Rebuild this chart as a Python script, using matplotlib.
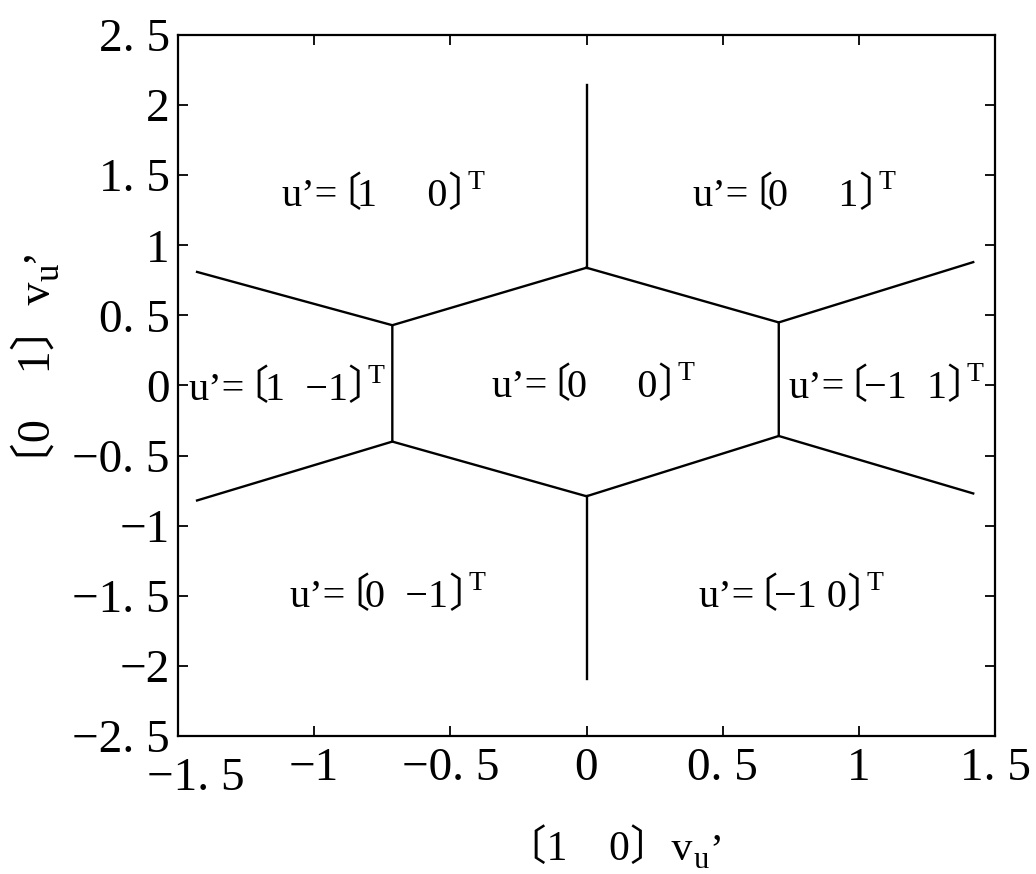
import matplotlib
matplotlib.use("Agg")
import matplotlib.pyplot as plt
from matplotlib.transforms import ScaledTranslation

plt.rcParams['font.family'] = ['Liberation Serif', 'Noto Sans CJK JP', 'DejaVu Sans']

# ---- data -------------------------------------------------------------
# hexagon vertices: top, upper-right, lower-right, bottom, lower-left, upper-left
vertex_x = [0.0, 0.706, 0.706, 0.0, -0.713, -0.713]
vertex_y = [0.84, 0.45, -0.36, -0.79, -0.40, 0.43]
# outer end of the boundary line leaving each vertex
spoke_end_x = [0.0, 1.42, 1.42, 0.0, -1.43, -1.43]
spoke_end_y = [2.14, 0.88, -0.77, -2.09, -0.82, 0.81]

# region labels u'=〔a b〕^T  (inner part between the brackets)
region_inner = ["1　 0", "0　 1", "1  −1", "0　 0", "−1  1", "0  −1", "−1 0"]
region_left_x = [-1.12, 0.39, -1.46, -0.35, 0.74, -1.09, 0.41]
region_base_y = [1.28, 1.28, -0.10, -0.08, -0.09, -1.58, -1.58]

xticks = [-1.5, -1.0, -0.5, 0.0, 0.5, 1.0, 1.5]
xtick_labels = ["−1. 5", "−1", "−0. 5", "0", "0. 5", "1", "1. 5"]
yticks = [-2.5, -2.0, -1.5, -1.0, -0.5, 0.0, 0.5, 1.0, 1.5, 2.0, 2.5]
ytick_labels = ["−2. 5", "−2", "−1. 5", "−1", "−0. 5", "0", "0. 5", "1", "1. 5", "2", "2. 5"]

# ---- figure -------------------------------------------------------------
W, H = 1036, 874
fig = plt.figure(figsize=(W / 100, H / 100), dpi=100)
ax = fig.add_axes([178 / W, 1 - 736 / H, (995 - 178) / W, (736 - 35) / H])
ax.set_xlim(-1.5, 1.5)
ax.set_ylim(-2.5, 2.5)
for sp in ax.spines.values():
    sp.set_linewidth(1.6)

lw = 1.7
ax.plot(vertex_x + vertex_x[:1], vertex_y + vertex_y[:1], color='black', lw=lw)
for vx, vy, ex, ey in zip(vertex_x, vertex_y, spoke_end_x, spoke_end_y):
    ax.plot([vx, ex], [vy, ey], color='black', lw=lw)

ax.set_xticks(xticks)
ax.set_xticklabels(xtick_labels)
ax.set_yticks(yticks)
ax.set_yticklabels(ytick_labels)
ax.tick_params(direction='in', length=7, width=1.3, top=True, right=True,
               labelsize=34, pad=6)
ax.tick_params(axis='x', pad=8)
first = ax.get_xticklabels()[0]
first.set_transform(first.get_transform() + ScaledTranslation(0.18, -0.1, fig.dpi_scale_trans))

renderer = fig.canvas.get_renderer()
inv = fig.transFigure.inverted()


def chain(pieces, x, y, rotation=0):
    """pieces: (text, size, shift_px, gap_px); x, y: display px of baseline start."""
    for s, size, shift, gap in pieces:
        if rotation == 0:
            pos = (x + gap, y + shift)
        else:
            pos = (x - shift, y + gap)
        fx, fy = inv.transform(pos)
        t = fig.text(fx, fy, s, fontsize=size, ha='left', va='baseline',
                     rotation=rotation, rotation_mode='anchor', color='black')
        bb = t.get_window_extent(renderer)
        if rotation == 0:
            x = bb.x1
        else:
            y = bb.y1


# region labels with superscript T
fs = 29
for inner, lx, by in zip(region_inner, region_left_x, region_base_y):
    px, py = ax.transData.transform((lx, by))
    chain([("u’=", fs, 0, 0), ("〔", fs, 0, -17), (inner, fs, 0, -4),
           ("〕", fs, 0, 0), ("T", 20, 17, -20)], px, py)

# axis labels
chain([("〔1　0〕v", 30, 0, 0), ("u", 22, -8, 1), ("’", 30, -2, 1)],
      505, H - 860)
chain([("〔0　1〕v", 33, 0, 0), ("u", 25, -9, 1), ("’", 33, -2, 1)],
      50, H - 488, rotation=90)

fig.savefig("out.png", dpi=100)
